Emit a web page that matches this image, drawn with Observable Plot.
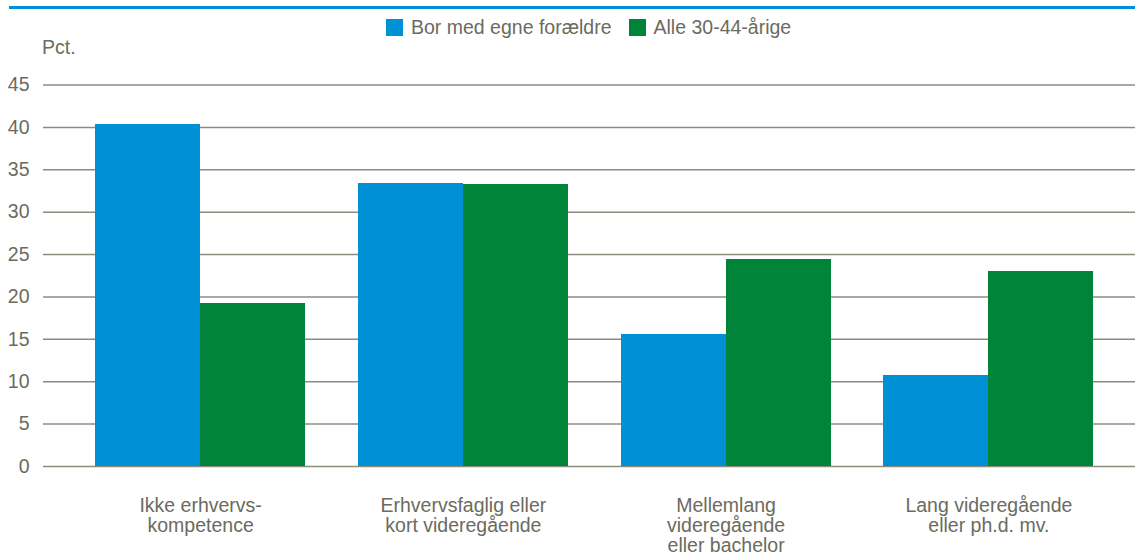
<!DOCTYPE html>
<html>
<head>
<meta charset="utf-8">
<script src="https://cdn.jsdelivr.net/npm/d3@7"></script>
<script src="https://cdn.jsdelivr.net/npm/@observablehq/plot@0.6"></script>
<style>
  html, body { margin: 0; padding: 0; background: #fff; }
  body { width: 1135px; height: 556px; position: relative; overflow: hidden; font-family: "Liberation Sans", Arial, sans-serif; color: #6b6b5e; }
  #topline { position: absolute; left: 9px; top: 6px; width: 1126px; height: 3px; background: #0090d6; }
  #legend { position: absolute; top: 17px; left: 386px; display: flex; align-items: center; font-size: 19.5px; line-height: 20px; white-space: nowrap; }
  #legend span.item { display: inline-flex; align-items: center; margin-right: 17px; }
  #legend span.sw { display: inline-block; width: 17px; height: 17px; margin-right: 8px; }
  #unit { position: absolute; left: 42px; top: 36px; font-size: 19.5px; }
  .layer { position: absolute; left: 0; top: 60px; }
</style>
</head>
<body>
<div id="topline"></div>
<div id="legend"></div>
<div id="unit">Pct.</div>
<div id="grid" class="layer"></div>
<div id="bars" class="layer"></div>
<script>
const categories = [
  "Ikke erhvervs-\nkompetence",
  "Erhvervsfaglig eller\nkort videregående",
  "Mellemlang\nvideregående\neller bachelor",
  "Lang videregående\neller ph.d. mv."
];
const seriesNames = ["Bor med egne forældre", "Alle 30-44-årige"];
const borMedForaeldre = [40.3, 33.4, 15.6, 10.7];
const alle3044 = [19.2, 33.3, 24.4, 23.0];
const yTicks = [0, 5, 10, 15, 20, 25, 30, 35, 40, 45];
const colors = ["#0090d6", "#00843a"];

const data = [];
categories.forEach((c, i) => {
  data.push({cat: c, series: seriesNames[0], value: borMedForaeldre[i]});
  data.push({cat: c, series: seriesNames[1], value: alle3044[i]});
});

// legend
const legend = document.getElementById("legend");
seriesNames.forEach((s, i) => {
  const item = document.createElement("span");
  item.className = "item";
  const sw = document.createElement("span");
  sw.className = "sw";
  sw.style.background = colors[i];
  item.appendChild(sw);
  item.appendChild(document.createTextNode(s));
  legend.appendChild(item);
});

const textColor = "#6b6b5e";
const common = {
  width: 1135,
  height: 496,
  marginLeft: 43,
  marginRight: 0,
  marginTop: 24.5,
  marginBottom: 90,
  style: {fontFamily: "Liberation Sans, Arial, sans-serif", fontSize: "19.5px", color: textColor, background: "transparent", overflow: "visible"}
};

// background layer: gridlines and y tick labels
const gridPlot = Plot.plot({
  ...common,
  y: {domain: [0, 45], axis: null},
  marks: [
    Plot.ruleY(yTicks, {y: d => d, stroke: "#8c8c7e", strokeWidth: 1.5}),
    Plot.text(yTicks, {y: d => d, text: d => String(d), frameAnchor: "left", dx: -14, textAnchor: "end", fill: textColor, fontSize: 19.5})
  ]
});
document.getElementById("grid").appendChild(gridPlot);

// foreground layer: grouped bars
const barPlot = Plot.plot({
  ...common,
  fx: {domain: categories, paddingInner: 0.2, paddingOuter: 0.178, align: 0.556, round: false, label: null, axis: null},
  x: {domain: seriesNames, padding: 0, round: false, axis: null},
  y: {domain: [0, 45], axis: null},
  color: {domain: seriesNames, range: colors},
  marks: [
    Plot.barY(data, {fx: "cat", x: "series", y: "value", fill: "series", shapeRendering: "crispEdges"}),
    Plot.axisFx({anchor: "bottom", tickSize: 0, tickPadding: 31, fontSize: 19.5, lineHeight: 1.03, fill: textColor, label: null})
  ]
});
document.getElementById("bars").appendChild(barPlot);
</script>
</body>
</html>
